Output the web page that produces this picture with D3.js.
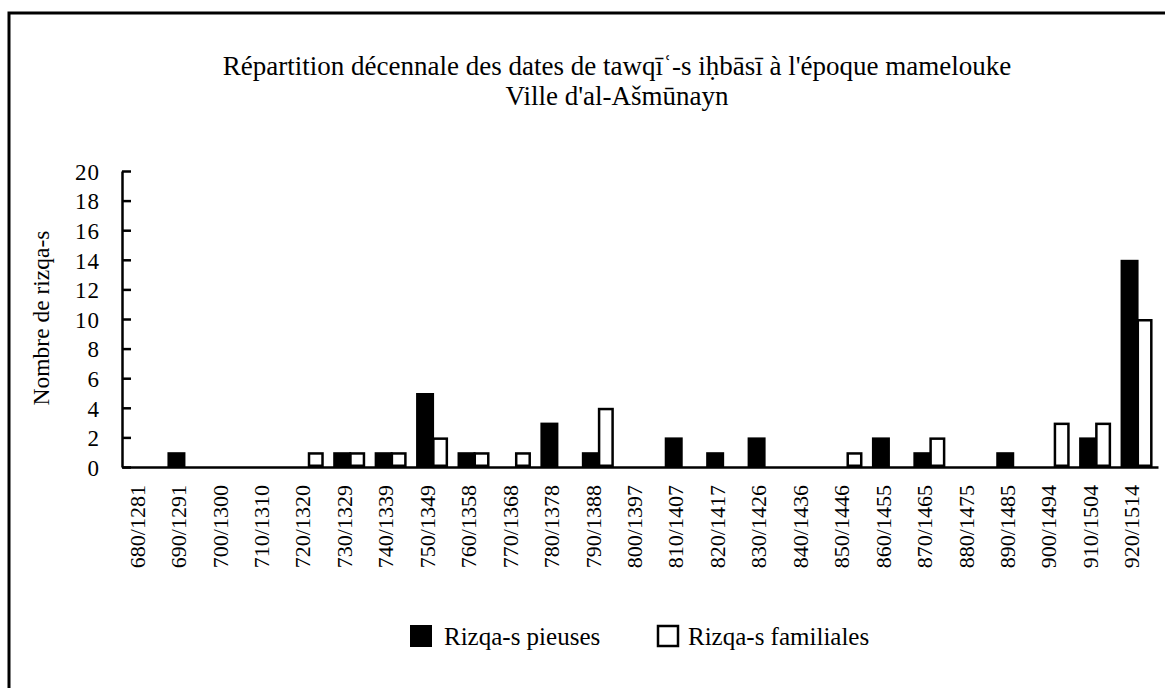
<!DOCTYPE html>
<html>
<head>
<meta charset="utf-8">
<script src="https://cdn.jsdelivr.net/npm/d3@7"></script>
<style>
  body { margin: 0; background: #fff; }
  svg text { font-family: "Liberation Serif", "Times New Roman", serif; fill: #000; }
</style>
</head>
<body>
<svg width="1165" height="688"></svg>
<script>
// data
var categories = ["680/1281","690/1291","700/1300","710/1310","720/1320","730/1329","740/1339",
  "750/1349","760/1358","770/1368","780/1378","790/1388","800/1397","810/1407","820/1417",
  "830/1426","840/1436","850/1446","860/1455","870/1465","880/1475","890/1485","900/1494",
  "910/1504","920/1514"];
var pieuses    = [0,1,0,0,0,1,1,5,1,0,3,1,0,2,1,2,0,0,2,1,0,1,0,2,14];
var familiales = [0,0,0,0,1,1,1,2,1,1,0,4,0,0,0,0,0,1,0,2,0,0,3,3,10];
var yTicks = [0,2,4,6,8,10,12,14,16,18,20];
var seriesNames = ["Rizqa-s pieuses", "Rizqa-s familiales"];
var titleLines = ["Répartition décennale des dates de tawqīʿ-s iḥbāsī à l'époque mamelouke",
  "Ville d'al-Ašmūnayn"];

var svg = d3.select("svg");
var plot = { left: 122, right: 1158, top: 171, bottom: 467 };

// frame
svg.append("rect")
  .attr("x", 9).attr("y", 13)
  .attr("width", 1200).attr("height", 720)
  .attr("fill", "none").attr("stroke", "#000").attr("stroke-width", 3);

// scales
var xScale = d3.scaleBand()
  .domain(categories)
  .range([plot.left, plot.right]);

var xSub = d3.scaleBand()
  .domain(["p", "f"])
  .range([4, 36]);

var yScale = d3.scaleLinear()
  .domain([0, 20])
  .range([plot.bottom, plot.top]);

// title
svg.selectAll(".title")
  .data(titleLines)
  .enter().append("text")
    .attr("class", "title")
    .attr("x", 617)
    .attr("y", (d, i) => 75 + i * 30)
    .attr("text-anchor", "middle")
    .style("font-size", "27px")
    .text(d => d);

// y axis
var yAxis = svg.append("g")
  .attr("transform", `translate(${plot.left},0)`)
  .call(d3.axisLeft(yScale).tickValues(yTicks).tickSizeInner(-9).tickSizeOuter(0).tickPadding(22));
yAxis.select(".domain").attr("stroke-width", 2.5);
yAxis.selectAll(".tick line").attr("stroke-width", 2.5);
yAxis.selectAll(".tick text")
  .attr("x", -22)
  .style("font-size", "23px")
  .style("letter-spacing", "1px")
  .attr("dy", "0.36em");

svg.append("text")
  .attr("transform", "translate(49,318) rotate(-90)")
  .attr("text-anchor", "middle")
  .style("font-size", "23.5px")
  .text("Nombre de rizqa-s");

// bars
var groups = svg.selectAll(".group")
  .data(categories)
  .enter().append("g")
    .attr("class", "group")
    .attr("transform", d => `translate(${xScale(d)},0)`);

groups.filter((d, i) => pieuses[i] > 0)
  .append("rect")
    .attr("x", xSub("p"))
    .attr("width", xSub.bandwidth() + 2)
    .attr("y", d => yScale(pieuses[categories.indexOf(d)]))
    .attr("height", d => yScale(0) - yScale(pieuses[categories.indexOf(d)]))
    .attr("fill", "#000");

groups.filter((d, i) => familiales[i] > 0)
  .append("rect")
    .attr("x", xSub("f") + 1.25)
    .attr("width", xSub.bandwidth() - 2.5)
    .attr("y", d => yScale(familiales[categories.indexOf(d)]) + 1.25)
    .attr("height", d => yScale(0) - yScale(familiales[categories.indexOf(d)]) - 2.5)
    .attr("fill", "#fff")
    .attr("stroke", "#000")
    .attr("stroke-width", 2.5);

// x axis
var xAxis = svg.append("g")
  .attr("transform", `translate(0,${plot.bottom})`)
  .call(d3.axisBottom(xScale).tickSize(0).tickSizeOuter(0));
xAxis.select(".domain").attr("stroke-width", 2.5);
xAxis.selectAll(".tick text")
  .attr("transform", "rotate(-90)")
  .attr("x", -18)
  .attr("y", 2)
  .attr("dy", 0)
  .attr("text-anchor", "end")
  .style("font-size", "22px");

// legend
var legendX = [410, 657];
var legend = svg.selectAll(".legend")
  .data(seriesNames)
  .enter().append("g")
    .attr("class", "legend")
    .attr("transform", (d, i) => `translate(${legendX[i]},625)`);

legend.append("rect")
  .attr("x", (d, i) => i ? 1 : 0)
  .attr("y", (d, i) => i ? 1 : 0)
  .attr("width", (d, i) => i ? 20 : 22)
  .attr("height", (d, i) => i ? 20 : 22)
  .attr("fill", (d, i) => i ? "#fff" : "#000")
  .attr("stroke", "#000")
  .attr("stroke-width", (d, i) => i ? 2.5 : 0);

legend.append("text")
  .attr("x", (d, i) => i ? 31 : 34)
  .attr("y", 20)
  .style("font-size", "25px")
  .text(d => d);
</script>
</body>
</html>
